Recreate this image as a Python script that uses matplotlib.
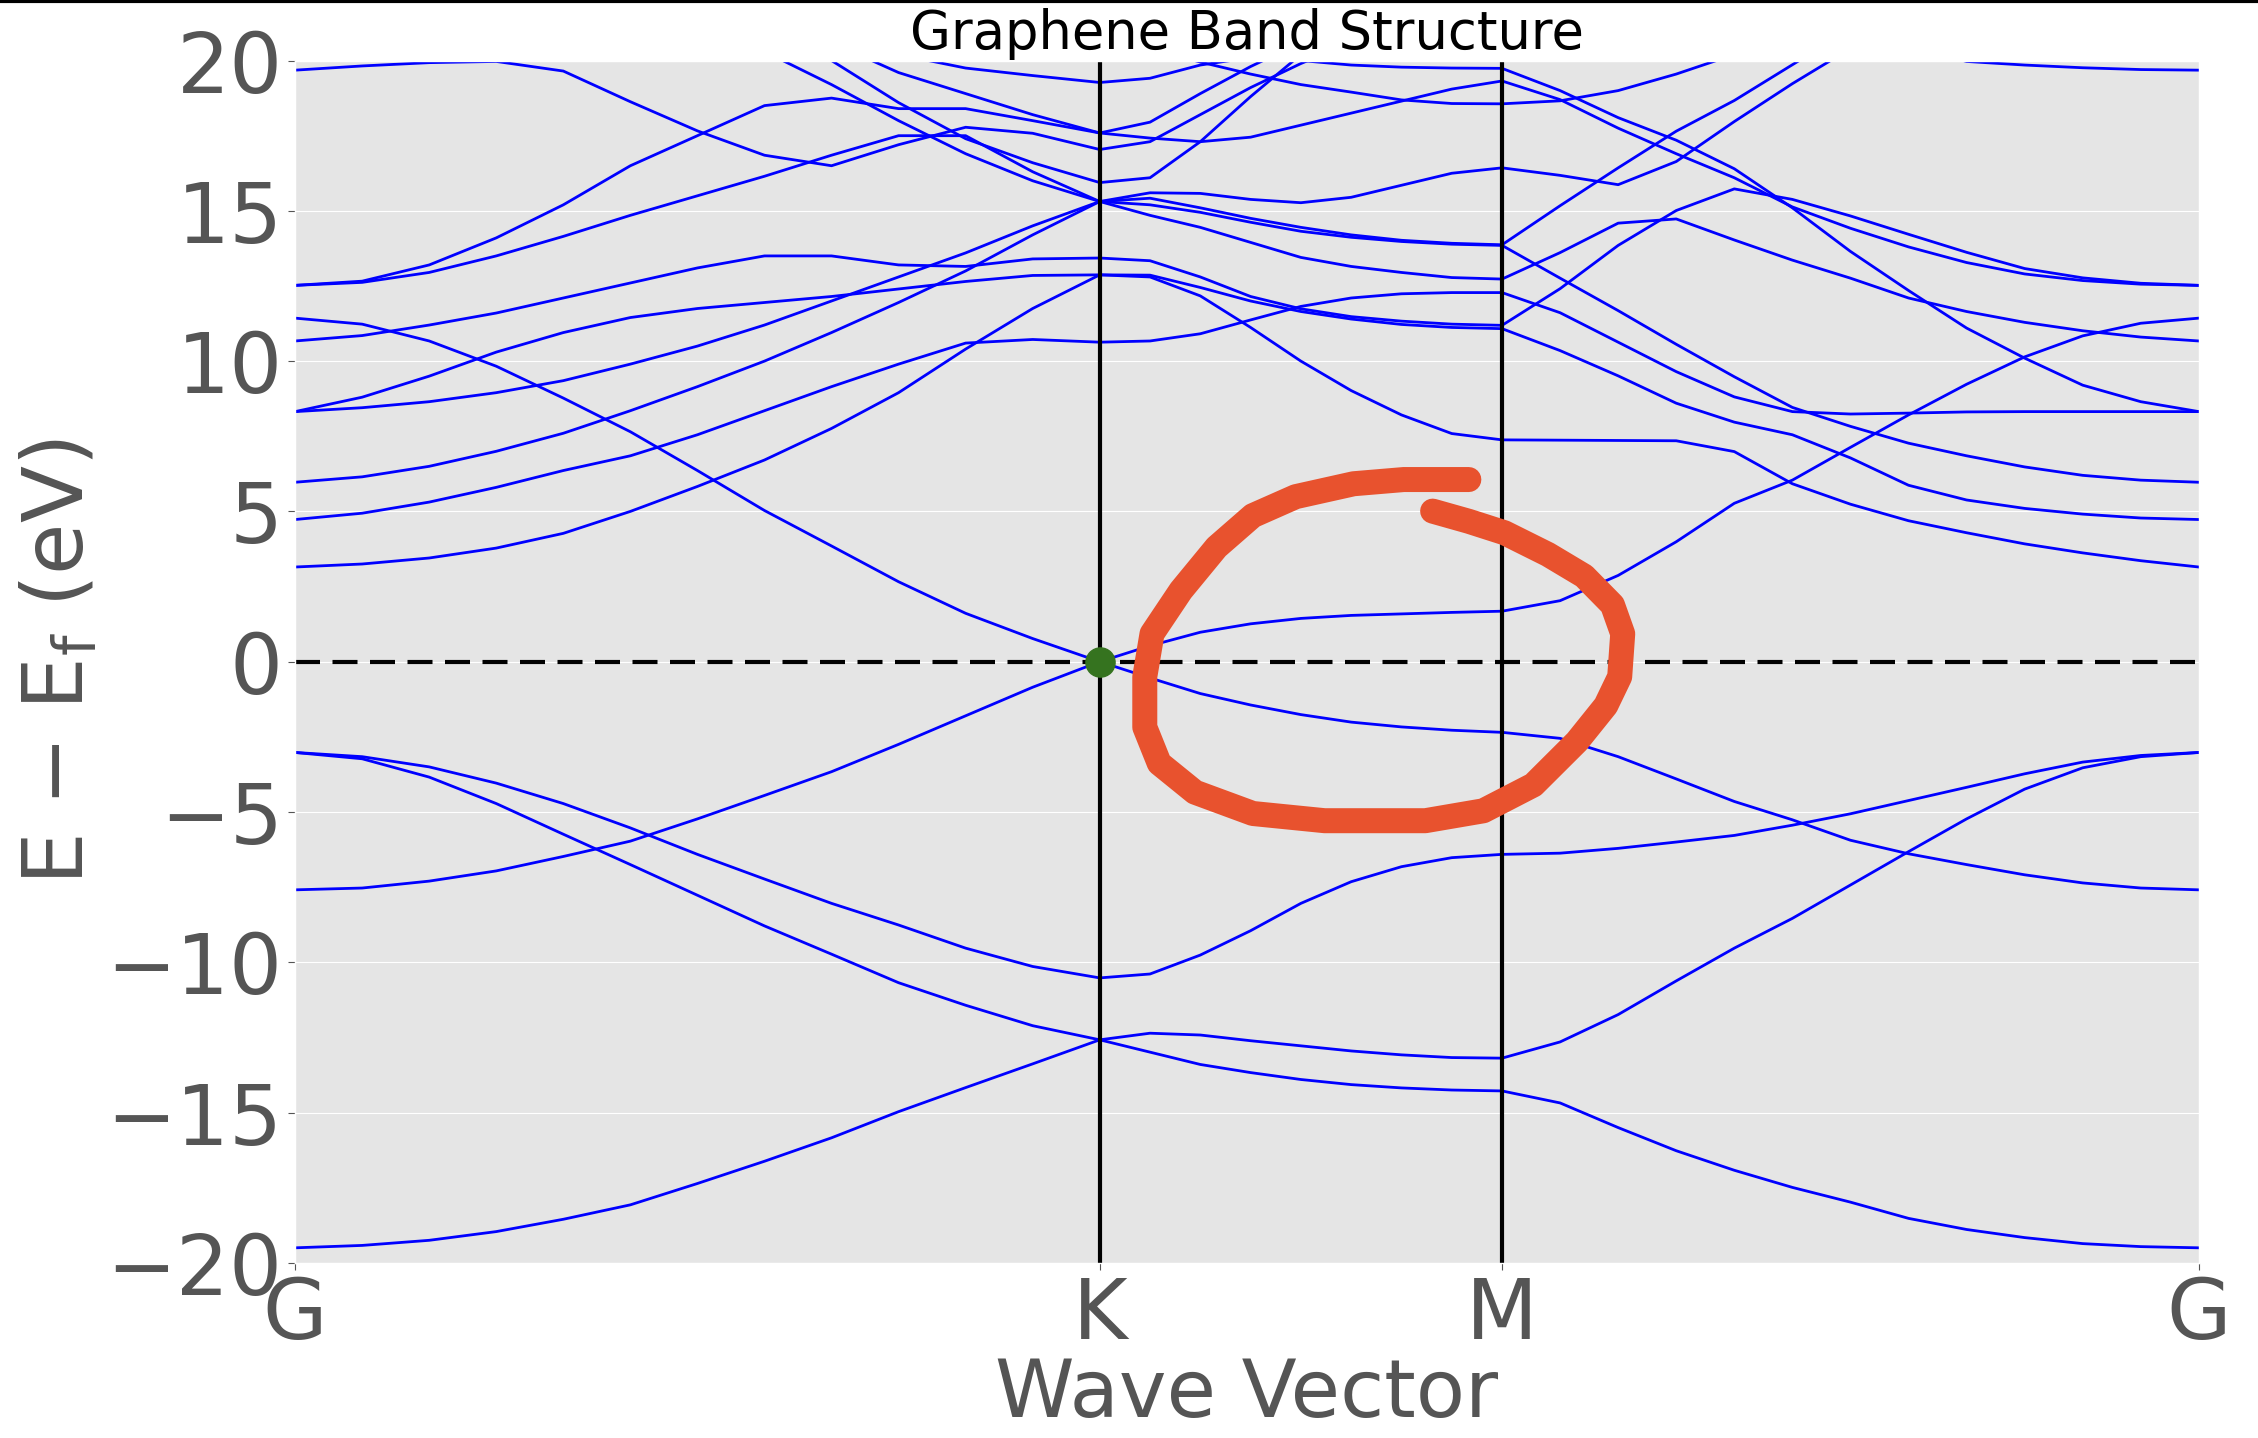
import numpy as np
import matplotlib.pyplot as plt
from matplotlib.lines import Line2D

plt.style.use('ggplot')

# high-symmetry points along the path
labels = ['G', 'K', 'M', 'G']
nodes = np.array([0.0, 4 / 3, 2.0, 2.0 + 2 / np.sqrt(3)])

# band energies (eV), read at evenly spaced k on each segment
gk = [
    [-19.50, -19.42, -19.25, -18.96, -18.55, -18.07, -17.36, -16.62, -15.84, -14.97, -14.17, -13.38, -12.58],
    [-3.02, -3.23, -3.84, -4.72, -5.74, -6.75, -7.77, -8.79, -9.73, -10.68, -11.43, -12.11, -12.58],
    [-3.02, -3.16, -3.50, -4.04, -4.72, -5.53, -6.41, -7.23, -8.04, -8.76, -9.53, -10.14, -10.52],
    [-7.59, -7.53, -7.30, -6.96, -6.48, -5.97, -5.23, -4.45, -3.66, -2.75, -1.80, -0.85, 0.00],
    [11.43, 11.23, 10.67, 9.83, 8.77, 7.65, 6.36, 5.03, 3.85, 2.66, 1.61, 0.77, 0.00],
    [3.15, 3.25, 3.45, 3.78, 4.27, 5.00, 5.83, 6.71, 7.76, 8.95, 10.40, 11.75, 12.87],
    [4.73, 4.94, 5.31, 5.80, 6.36, 6.85, 7.55, 8.35, 9.15, 9.90, 10.60, 10.72, 10.63],
    [5.97, 6.15, 6.50, 7.00, 7.60, 8.35, 9.15, 10.00, 10.95, 11.95, 13.00, 14.20, 15.31],
    [8.32, 8.45, 8.65, 8.95, 9.35, 9.90, 10.50, 11.20, 12.00, 12.80, 13.60, 14.50, 15.31],
    [8.32, 8.80, 9.50, 10.30, 10.95, 11.45, 11.75, 11.95, 12.15, 12.40, 12.65, 12.85, 12.87],
    [10.67, 10.85, 11.20, 11.60, 12.10, 12.60, 13.10, 13.50, 13.50, 13.20, 13.15, 13.40, 13.43],
    [12.52, 12.62, 12.95, 13.50, 14.15, 14.85, 15.50, 16.15, 16.85, 17.50, 17.50, 16.30, 15.31],
    [12.52, 12.66, 13.20, 14.10, 15.20, 16.50, 17.50, 18.50, 18.75, 18.40, 18.40, 18.00, 17.59],
    [19.68, 19.82, 19.93, 19.97, 19.65, 18.63, 17.66, 16.85, 16.50, 17.20, 17.78, 17.58, 17.04],
    [25.0, 24.5, 24.0, 23.5, 23.0, 22.5, 22.0, 21.5, 21.0, 20.2, 19.75, 19.50, 19.27],
    [25.0, 24.5, 24.0, 23.5, 23.0, 22.5, 21.8, 21.0, 20.0, 18.6, 17.4, 16.6, 15.94],
    [25.0, 24.5, 24.0, 23.2, 22.5, 21.7, 21.0, 20.3, 19.2, 18.0, 16.9, 16.0, 15.31],
    [25.0, 24.6, 24.2, 23.8, 23.3, 22.8, 22.2, 21.5, 20.6, 19.6, 18.9, 18.2, 17.59],
]

km = [
    [-12.58, -12.36, -12.42, -12.61, -12.78, -12.95, -13.08, -13.17, -13.19],
    [-12.58, -12.99, -13.40, -13.67, -13.90, -14.07, -14.18, -14.25, -14.28],
    [-10.52, -10.39, -9.76, -8.95, -8.04, -7.32, -6.82, -6.52, -6.41],
    [0.00, -0.54, -1.06, -1.44, -1.76, -2.01, -2.17, -2.28, -2.35],
    [0.00, 0.53, 0.98, 1.26, 1.44, 1.54, 1.59, 1.64, 1.68],
    [12.87, 12.80, 12.17, 11.12, 10.00, 9.02, 8.21, 7.59, 7.38],
    [12.87, 12.86, 12.45, 12.00, 11.65, 11.40, 11.22, 11.12, 11.08],
    [13.43, 13.34, 12.80, 12.15, 11.74, 11.48, 11.33, 11.23, 11.19],
    [10.63, 10.67, 10.91, 11.37, 11.82, 12.10, 12.24, 12.28, 12.28],
    [15.31, 15.60, 15.58, 15.38, 15.27, 15.45, 15.85, 16.25, 16.43],
    [15.31, 15.42, 15.10, 14.75, 14.45, 14.20, 14.02, 13.92, 13.87],
    [15.31, 15.20, 14.95, 14.62, 14.32, 14.12, 13.98, 13.89, 13.85],
    [15.31, 14.85, 14.45, 13.95, 13.45, 13.15, 12.95, 12.78, 12.73],
    [15.94, 16.10, 17.30, 18.80, 20.20, 21.50, 22.50, 23.00, 23.50],
    [17.04, 17.30, 18.20, 19.10, 19.90, 20.60, 21.20, 21.70, 22.00],
    [17.59, 17.42, 17.30, 17.45, 17.85, 18.25, 18.65, 19.05, 19.32],
    [17.59, 17.95, 18.90, 19.80, 20.60, 21.30, 21.90, 22.40, 22.80],
    [20.80, 20.40, 19.95, 19.55, 19.20, 18.95, 18.69, 18.57, 18.56],
    [19.27, 19.41, 19.85, 20.10, 20.00, 19.85, 19.78, 19.75, 19.74],
]

mg = [
    [-13.19, -12.65, -11.74, -10.62, -9.53, -8.54, -7.43, -6.32, -5.23, -4.24, -3.53, -3.16, -3.02],
    [-14.28, -14.68, -15.50, -16.27, -16.92, -17.49, -17.98, -18.52, -18.89, -19.16, -19.36, -19.46, -19.50],
    [-6.41, -6.37, -6.21, -6.00, -5.78, -5.44, -5.06, -4.62, -4.18, -3.73, -3.34, -3.12, -3.02],
    [-2.35, -2.55, -3.16, -3.90, -4.65, -5.26, -5.94, -6.39, -6.75, -7.09, -7.36, -7.53, -7.59],
    [1.68, 2.03, 2.87, 3.99, 5.27, 6.04, 7.13, 8.21, 9.23, 10.14, 10.84, 11.26, 11.43],
    [7.38, 7.37, 7.36, 7.35, 6.99, 5.92, 5.24, 4.69, 4.29, 3.92, 3.62, 3.36, 3.15],
    [11.08, 10.35, 9.51, 8.60, 7.97, 7.55, 6.78, 5.87, 5.38, 5.10, 4.91, 4.78, 4.73],
    [12.28, 11.61, 10.63, 9.65, 8.81, 8.32, 8.24, 8.27, 8.31, 8.32, 8.32, 8.32, 8.32],
    [13.85, 12.76, 11.68, 10.56, 9.48, 8.46, 7.83, 7.27, 6.85, 6.48, 6.20, 6.04, 5.97],
    [11.19, 12.41, 13.85, 15.01, 15.73, 15.38, 14.83, 14.22, 13.62, 13.08, 12.77, 12.59, 12.52],
    [12.73, 13.61, 14.59, 14.73, 14.03, 13.36, 12.76, 12.10, 11.65, 11.29, 11.01, 10.80, 10.67],
    [13.87, 15.17, 16.43, 17.65, 18.67, 19.86, 21.05, 22.00, 23.00, 24.00, 25.00, 25.50, 26.00],
    [16.43, 16.18, 15.87, 16.64, 17.97, 19.23, 20.40, 21.50, 22.50, 23.30, 24.00, 24.50, 25.00],
    [18.56, 18.66, 19.00, 19.55, 20.20, 21.00, 21.80, 22.50, 23.10, 23.60, 24.00, 24.30, 24.50],
    [19.32, 18.70, 17.75, 16.90, 16.10, 15.13, 14.42, 13.80, 13.28, 12.90, 12.68, 12.56, 12.52],
    [19.74, 19.00, 18.10, 17.35, 16.40, 15.10, 13.65, 12.35, 11.10, 10.10, 9.20, 8.65, 8.32],
    [25.00, 24.60, 24.10, 23.50, 22.80, 22.00, 21.20, 20.50, 19.97, 19.85, 19.76, 19.70, 19.68],
]

# hand-drawn red loop (k, E)
red_k = [1.945, 1.897, 1.837, 1.754, 1.658, 1.587, 1.527, 1.468, 1.420, 1.408, 1.408, 1.432,
         1.491, 1.587, 1.706, 1.873, 1.969, 2.052, 2.124, 2.172, 2.195, 2.200, 2.183, 2.136,
         2.076, 2.004, 1.945, 1.885]
red_E = [6.06, 6.06, 6.06, 5.92, 5.49, 4.86, 3.81, 2.37, 0.93, -0.50, -2.18, -3.38,
         -4.34, -5.05, -5.29, -5.29, -4.96, -4.10, -2.66, -1.46, -0.50, 0.93, 1.89, 2.85,
         3.57, 4.29, 4.67, 5.01]

fig = plt.figure(figsize=(22.58, 14.38), dpi=100)
ax = fig.add_axes([0.1307, 0.1218, 0.8431, 0.8361])

for seg, a, b in zip([gk, km, mg], nodes[:-1], nodes[1:]):
    for band in seg:
        k = np.linspace(a, b, len(band))
        ax.plot(k, band, color='blue', lw=2)

ax.axhline(0, color='black', lw=3, linestyle=(0, (6, 3)))
for x in nodes[1:3]:
    ax.axvline(x, color='black', lw=3)
ax.plot(nodes[1], 0, 'o', color='#35731f', markersize=21)

ax.plot(red_k, red_E, color='#e8522e', lw=18, solid_capstyle='round', solid_joinstyle='round')

ax.set_xlim(nodes[0], nodes[-1])
ax.set_ylim(-20, 20)
ax.set_xticks(nodes, labels)
ax.set_yticks(np.arange(-20, 21, 5))
ax.grid(axis='x', visible=False)
ax.tick_params(labelsize=60, length=5, pad=4)
ax.set_xlabel('Wave Vector', fontsize=58, labelpad=0)
ax.set_ylabel(r'E $-$ E$_\mathrm{f}$ (eV)', fontsize=60)
ax.yaxis.set_label_coords(-0.1025, 0.50)
ax.set_title('Graphene Band Structure', fontsize=38, color='black', pad=8)

fig.add_artist(Line2D([0, 1], [0.999, 0.999], color='black', lw=3))

fig.savefig('out.png', dpi=100)
